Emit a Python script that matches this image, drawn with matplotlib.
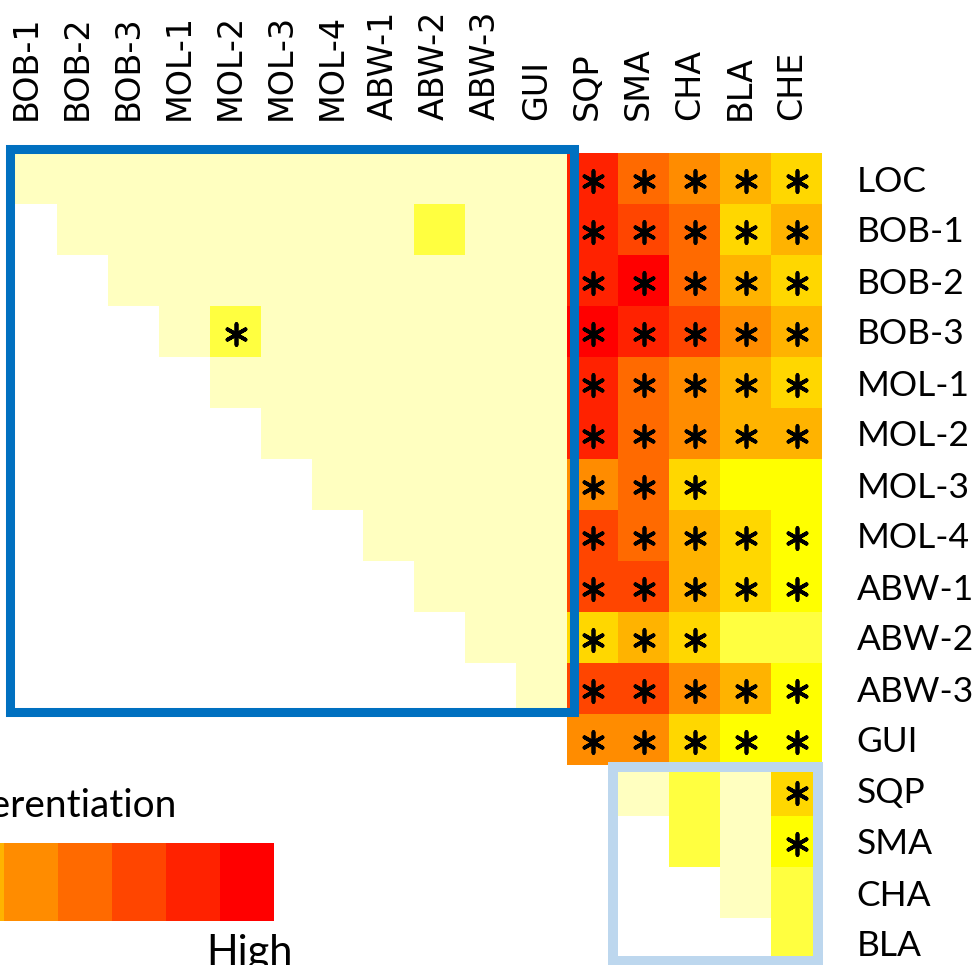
import matplotlib
matplotlib.use("Agg")
import matplotlib.pyplot as plt
import matplotlib.transforms as mtransforms
from matplotlib.colors import ListedColormap, BoundaryNorm
from matplotlib.patches import Rectangle
import numpy as np

# populations
row_labels = ["LOC", "BOB-1", "BOB-2", "BOB-3", "MOL-1", "MOL-2", "MOL-3", "MOL-4",
              "ABW-1", "ABW-2", "ABW-3", "GUI", "SQP", "SMA", "CHA", "BLA"]
col_labels = ["BOB-1", "BOB-2", "BOB-3", "MOL-1", "MOL-2", "MOL-3", "MOL-4", "ABW-1",
              "ABW-2", "ABW-3", "GUI", "SQP", "SMA", "CHA", "BLA", "CHE"]

# differentiation class per pair (0 = no cell, 1 = low ... 10 = high)
levels = [
    [1, 1, 1, 1, 1, 1, 1, 1, 1, 1, 1, 9, 7, 6, 5, 4],
    [0, 1, 1, 1, 1, 1, 1, 1, 2, 1, 1, 9, 8, 7, 4, 5],
    [0, 0, 1, 1, 1, 1, 1, 1, 1, 1, 1, 9, 10, 7, 5, 4],
    [0, 0, 0, 1, 2, 1, 1, 1, 1, 1, 1, 10, 9, 8, 6, 5],
    [0, 0, 0, 0, 1, 1, 1, 1, 1, 1, 1, 9, 7, 6, 5, 4],
    [0, 0, 0, 0, 0, 1, 1, 1, 1, 1, 1, 9, 7, 6, 5, 5],
    [0, 0, 0, 0, 0, 0, 1, 1, 1, 1, 1, 6, 7, 4, 3, 3],
    [0, 0, 0, 0, 0, 0, 0, 1, 1, 1, 1, 8, 7, 5, 4, 3],
    [0, 0, 0, 0, 0, 0, 0, 0, 1, 1, 1, 8, 8, 5, 4, 3],
    [0, 0, 0, 0, 0, 0, 0, 0, 0, 1, 1, 4, 5, 4, 2, 2],
    [0, 0, 0, 0, 0, 0, 0, 0, 0, 0, 1, 8, 8, 6, 5, 3],
    [0, 0, 0, 0, 0, 0, 0, 0, 0, 0, 0, 6, 6, 4, 3, 3],
    [0, 0, 0, 0, 0, 0, 0, 0, 0, 0, 0, 0, 1, 2, 1, 4],
    [0, 0, 0, 0, 0, 0, 0, 0, 0, 0, 0, 0, 0, 2, 1, 3],
    [0, 0, 0, 0, 0, 0, 0, 0, 0, 0, 0, 0, 0, 0, 1, 2],
    [0, 0, 0, 0, 0, 0, 0, 0, 0, 0, 0, 0, 0, 0, 0, 2],
]

# significant pairs
signif = [
    [0, 0, 0, 0, 0, 0, 0, 0, 0, 0, 0, 1, 1, 1, 1, 1],
    [0, 0, 0, 0, 0, 0, 0, 0, 0, 0, 0, 1, 1, 1, 1, 1],
    [0, 0, 0, 0, 0, 0, 0, 0, 0, 0, 0, 1, 1, 1, 1, 1],
    [0, 0, 0, 0, 1, 0, 0, 0, 0, 0, 0, 1, 1, 1, 1, 1],
    [0, 0, 0, 0, 0, 0, 0, 0, 0, 0, 0, 1, 1, 1, 1, 1],
    [0, 0, 0, 0, 0, 0, 0, 0, 0, 0, 0, 1, 1, 1, 1, 1],
    [0, 0, 0, 0, 0, 0, 0, 0, 0, 0, 0, 1, 1, 1, 0, 0],
    [0, 0, 0, 0, 0, 0, 0, 0, 0, 0, 0, 1, 1, 1, 1, 1],
    [0, 0, 0, 0, 0, 0, 0, 0, 0, 0, 0, 1, 1, 1, 1, 1],
    [0, 0, 0, 0, 0, 0, 0, 0, 0, 0, 0, 1, 1, 1, 0, 0],
    [0, 0, 0, 0, 0, 0, 0, 0, 0, 0, 0, 1, 1, 1, 1, 1],
    [0, 0, 0, 0, 0, 0, 0, 0, 0, 0, 0, 1, 1, 1, 1, 1],
    [0, 0, 0, 0, 0, 0, 0, 0, 0, 0, 0, 0, 0, 0, 0, 1],
    [0, 0, 0, 0, 0, 0, 0, 0, 0, 0, 0, 0, 0, 0, 0, 1],
    [0, 0, 0, 0, 0, 0, 0, 0, 0, 0, 0, 0, 0, 0, 0, 0],
    [0, 0, 0, 0, 0, 0, 0, 0, 0, 0, 0, 0, 0, 0, 0, 0],
]

scale_levels = [1, 2, 3, 4, 5, 6, 7, 8, 9, 10]

colors = ["#FFFFC0", "#FFFF40", "#FFFF00", "#FFD700", "#FFB300",
          "#FF8C00", "#FF6A00", "#FF4500", "#FF2200", "#FF0000"]
cmap = ListedColormap(colors)
norm = BoundaryNorm(np.arange(0.5, 11.5, 1), cmap.N)

W, H = 975, 965
fig = plt.figure(figsize=(W / 100, H / 100), dpi=100)

def fx(px):
    return px / W

def fy(py):
    return 1 - py / H

# main grid: 51 px cells, from x=6 to 822, y=153 down
ax = fig.add_axes([fx(6), fy(969), fx(822) - fx(6), fy(153) - fy(969)])
mat = np.ma.masked_equal(np.array(levels, dtype=float), 0)
ax.imshow(mat, cmap=cmap, norm=norm, extent=(0, 16, 16, 0),
          aspect="auto", interpolation="nearest")
ax.set_xlim(0, 16)
ax.set_ylim(16, 0)

sr, sc = np.nonzero(np.array(signif))
ax.scatter(sc + 0.5, sr + 0.55, marker=(6, 2, 0), s=15 ** 2,
           color="black", linewidths=2.7, zorder=4)

# group boxes
ax.add_patch(Rectangle((0.08, -0.07), 11.06, 11.03, fill=False,
                       edgecolor="#0070C0", linewidth=6.5, zorder=5, clip_on=False))
ax.add_patch(Rectangle((11.9, 12.04), 4.02, 3.8, fill=False,
                       edgecolor="#BDD7EE", linewidth=7.2, zorder=5, clip_on=False))

for s in ax.spines.values():
    s.set_visible(False)

ax.xaxis.tick_top()
ax.set_xticks(np.arange(16) + 0.5)
ax.set_xticklabels(col_labels, rotation=90, fontsize=24, family="DejaVu Sans")
ax.tick_params(axis="x", length=0, pad=24)
shift = mtransforms.ScaledTranslation(-5 / 100, 0, fig.dpi_scale_trans)
for lab in ax.get_xticklabels():
    lab.set_transform(lab.get_transform() + shift)

ax.yaxis.tick_right()
ax.set_yticks(np.arange(16) + 0.5)
ax.set_yticklabels(row_labels, fontsize=25.5, family="Lato")
ax.tick_params(axis="y", length=0, pad=25)

# legend (partly outside the canvas)
cax = fig.add_axes([fx(-266), fy(921), fx(274) - fx(-266), fy(843) - fy(921)])
cax.imshow([scale_levels], cmap=cmap, norm=norm, aspect="auto",
           extent=(0, 10, 0, 1), interpolation="nearest")
cax.axis("off")
fig.text(fx(176), fy(817), "Genetic differentiation", ha="right", va="baseline",
         fontsize=28, family="Lato")
fig.text(fx(293), fy(965), "High", ha="right", va="baseline",
         fontsize=30, family="Lato")
fig.text(fx(-266), fy(965), "Low", ha="left", va="baseline",
         fontsize=30, family="Lato")

fig.savefig("out.png", dpi=100)
